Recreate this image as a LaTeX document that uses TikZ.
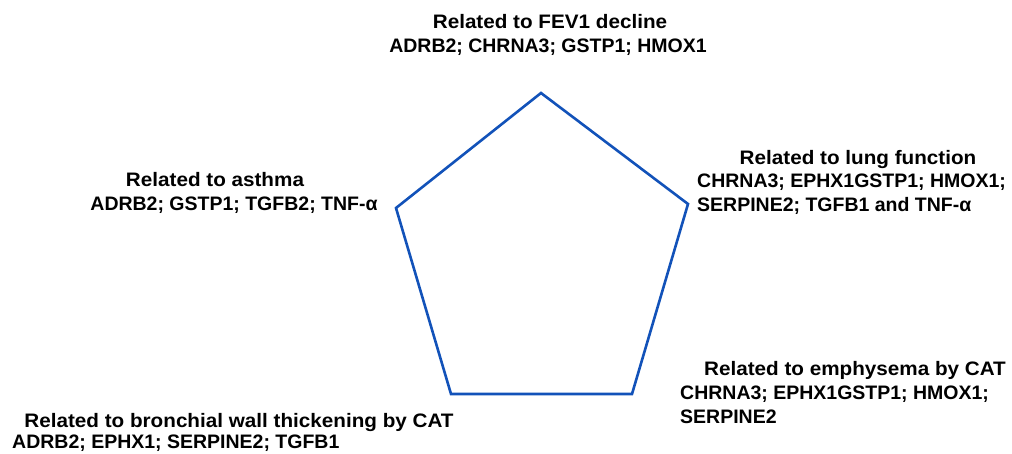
\documentclass[tikz,border=0pt]{standalone}
\usepackage{fontspec}
\setmainfont{Liberation Sans}
\newfontfamily\titlefont[FakeStretch=1.06]{Liberation Sans}
\definecolor{pentblue}{RGB}{18,82,185}
\begin{document}
\begin{tikzpicture}[x=1pt,y=-1pt,
  lbl/.style={inner sep=0pt, font=\fontsize{19.5}{24}\selectfont\bfseries, text=black},
  ttl/.style={lbl, anchor=base, font=\fontsize{19.5}{24}\selectfont\titlefont\bfseries},
  ctr/.style={lbl, anchor=base},
  lft/.style={lbl, anchor=base west, align=left},
  pent/.style={draw=pentblue, line width=2.6pt, line join=miter}]
\useasboundingbox (0,0) rectangle (1012,454);
% pentagon corners
\coordinate (pT) at (541,93);
\coordinate (pR) at (688,204);
\coordinate (pBR) at (632,394);
\coordinate (pBL) at (451,394);
\coordinate (pL) at (396,208);
\draw[pent] (pT) -- (pR) -- (pBR) -- (pBL) -- (pL) -- cycle;
% top
\node[ttl] (fevT) at (550,29) {Related to FEV1 decline};
\node[ctr] (fevG) at (548,53) {ADRB2; CHRNA3; GSTP1; HMOX1};
% right
\node[ttl] (lungT) at (858,165) {Related to lung function};
\node[lft] (lungG) at (697,212) {CHRNA3; EPHX1GSTP1; HMOX1;\\SERPINE2; TGFB1 and TNF-α};
% left
\node[ttl] (asthT) at (215,187) {Related to asthma};
\node[ctr] (asthG) at (234,211) {ADRB2; GSTP1; TGFB2; TNF-α};
% bottom right
\node[ttl] (empT) at (855,375) {Related to emphysema by CAT};
\node[lft] (empG) at (680,423) {CHRNA3; EPHX1GSTP1; HMOX1;\\SERPINE2};
% bottom left
\node[ttl] (bwtT) at (239,427) {Related to bronchial wall thickening by CAT};
\node[lft] (bwtG) at (12,448) {ADRB2; EPHX1; SERPINE2; TGFB1};
\end{tikzpicture}
\end{document}
